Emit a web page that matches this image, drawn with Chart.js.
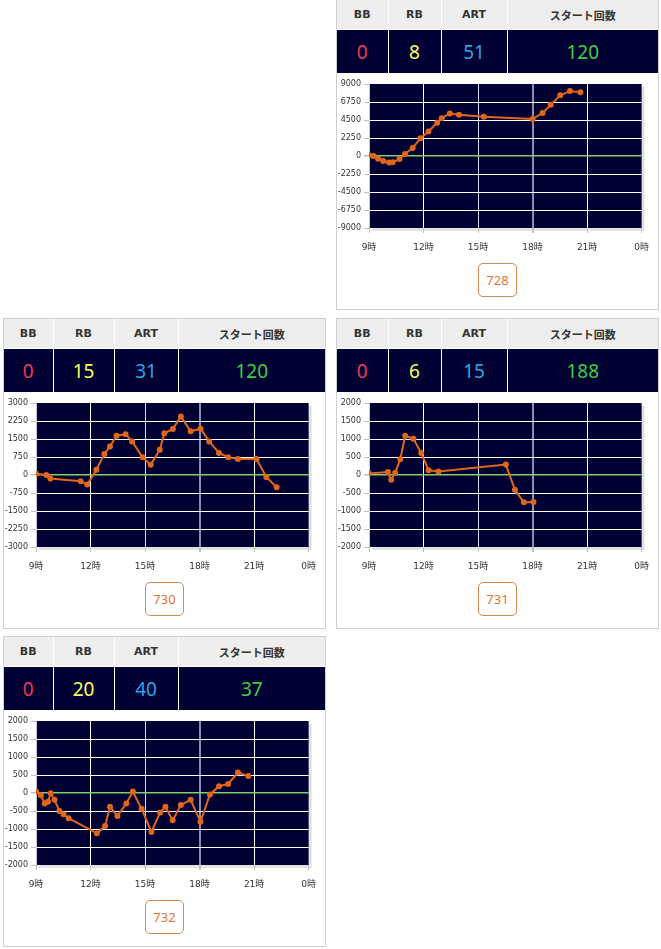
<!DOCTYPE html>
<html lang="ja">
<head>
<meta charset="UTF-8">
<title>スランプグラフ</title>
<script src="https://cdn.jsdelivr.net/npm/chart.js"></script>
<style>
body {
  margin: 0;
  width: 661px;
  height: 949px;
  position: relative;
  overflow: hidden;
  background: #fff;
  font-family: "DejaVu Sans", "Noto Sans CJK JP", sans-serif;
}
.panel {
  position: absolute;
  width: 321px;
  height: 309px;
  border: 1px solid #cfcfcf;
  background: #fff;
}
.panel table {
  border-collapse: collapse;
  table-layout: fixed;
  width: 321px;
}
.panel th {
  height: 29px;
  padding: 0;
  background: #eeeeee;
  color: #333;
  font-size: 11px;
  font-weight: bold;
  border-right: 1px solid #fff;
}
.panel td {
  height: 43px;
  padding: 0;
  background: #000033;
  font-family: "Noto Sans", sans-serif;
  font-size: 19px;
  text-align: center;
  border-right: 1px solid #fff;
  border-top: 1px solid #fff;
}
.panel th:last-child, .panel td:last-child { border-right: none; }
.bb { color: #ee3a52; }
.rb { color: #ffff5c; }
.art { color: #2ea3e6; }
.start { color: #3fcf3f; }
.panel canvas {
  position: absolute;
  left: 0;
  top: 74px;
}
.no {
  position: absolute;
  left: 141px;
  top: 263px;
  width: 37px;
  height: 32px;
  line-height: 32px;
  border: 1px solid #d88a4a;
  border-radius: 5px;
  text-align: center;
  color: #e07536;
  font-family: "Noto Sans", sans-serif;
  font-size: 13px;
}
</style>
</head>
<body>

<div id="panels"></div>

<script>
// 台番号と回数
const machines = ['728', '730', '731', '732'];
const bbCounts = [0, 0, 0, 0];
const rbCounts = [8, 15, 6, 20];
const artCounts = [51, 31, 15, 40];
const startCounts = [120, 120, 188, 37];

// 差枚グラフ（時刻, 差枚）
const hours728 = [9.0, 9.25, 9.5, 9.78, 10.1, 10.3, 10.68, 10.98, 11.4, 11.83, 12.27, 12.75, 13.0, 13.45, 13.95, 15.32, 18.0, 18.55, 19.0, 19.52, 20.06, 20.63];
const diff728 = [100, 0, -330, -640, -820, -780, -380, 260, 1000, 2230, 3060, 4150, 4730, 5320, 5150, 4920, 4620, 5380, 6420, 7580, 8120, 7960];

const hours730 = [9.0, 9.57, 9.79, 11.46, 11.82, 12.32, 12.76, 13.07, 13.43, 13.93, 14.29, 14.86, 15.31, 15.81, 16.06, 16.53, 16.97, 17.51, 18.05, 18.53, 19.07, 19.57, 20.11, 21.13, 21.67, 22.24];
const diff730 = [50, 0, -150, -260, -400, 220, 870, 1190, 1640, 1700, 1400, 740, 430, 1050, 1740, 1920, 2440, 1820, 1930, 1400, 920, 740, 670, 670, -80, -510];

const hours731 = [9.0, 10.04, 10.22, 10.44, 10.72, 10.99, 11.44, 11.87, 12.28, 12.82, 16.53, 17.03, 17.52, 18.05];
const diff731 = [40, 80, -130, 60, 440, 1090, 1010, 610, 130, 100, 290, -410, -760, -750];

const hours732 = [9.0, 9.27, 9.48, 9.66, 9.81, 10.02, 10.29, 10.51, 10.79, 12.35, 12.8, 13.07, 13.48, 13.97, 14.33, 14.81, 15.35, 15.83, 16.12, 16.52, 16.97, 17.51, 18.05, 18.57, 19.07, 19.57, 20.11, 20.68];
const diff732 = [40, -60, -290, -240, -10, -190, -500, -590, -700, -1120, -920, -380, -640, -290, 40, -440, -1080, -540, -380, -760, -330, -190, -800, -40, 190, 250, 570, 470];

const yMaxes = [9000, 3000, 2000, 2000];
const xTickLabels = ['9時', '12時', '15時', '18時', '21時', '0時'];
const headers = ['BB', 'RB', 'ART', 'スタート回数'];

const allHours = [hours728, hours730, hours731, hours732];
const allDiffs = [diff728, diff730, diff731, diff732];

// panel placement
const panelLeft = [336, 3, 336, 3];
const panelTop = [-1, 318, 318, 636];
const colWidths = [[51, 53, 66, 151], [49, 61, 64, 147], [51, 53, 66, 151], [49, 61, 64, 147]];

Chart.defaults.font.family = "'DejaVu Sans', 'Noto Sans CJK JP', sans-serif";
Chart.defaults.color = '#333';

const plotBg = {
  id: 'plotBg',
  beforeDraw(chart) {
    const { ctx, chartArea: a } = chart;
    ctx.save();
    ctx.fillStyle = '#e2e2e2';
    ctx.fillRect(a.left + 3, a.top + 3, a.width, a.height);
    ctx.fillStyle = '#000033';
    ctx.fillRect(a.left, a.top, a.width, a.height);
    ctx.restore();
  }
};

const wrap = document.getElementById('panels');

machines.forEach((no, i) => {
  const p = document.createElement('div');
  p.className = 'panel';
  p.style.left = panelLeft[i] + 'px';
  p.style.top = panelTop[i] + 'px';
  const w = colWidths[i];
  p.innerHTML =
    '<table><colgroup>' + w.map(x => '<col style="width:' + x + 'px">').join('') + '</colgroup>' +
    '<tr>' + headers.map(h => '<th>' + h + '</th>').join('') + '</tr>' +
    '<tr><td class="bb">' + bbCounts[i] + '</td><td class="rb">' + rbCounts[i] +
    '</td><td class="art">' + artCounts[i] + '</td><td class="start">' + startCounts[i] + '</td></tr></table>' +
    '<canvas id="c' + no + '" width="321" height="182"></canvas>' +
    '<div class="no">' + no + '</div>';
  wrap.appendChild(p);

  const max = yMaxes[i];
  const hrs = allHours[i];
  const vals = allDiffs[i];

  new Chart(document.getElementById('c' + no), {
    type: 'line',
    data: {
      datasets: [{
        data: hrs.map((h, k) => ({ x: h, y: vals[k] })),
        borderColor: '#e0661c',
        backgroundColor: '#e0661c',
        borderWidth: 2,
        pointRadius: 2,
        pointHoverRadius: 2,
        tension: 0
      }]
    },
    options: {
      responsive: false,
      animation: false,
      devicePixelRatio: 1,
      layout: { padding: { top: 10, right: 10, left: 0, bottom: 0 } },
      plugins: { legend: { display: false }, tooltip: { enabled: false } },
      scales: {
        x: {
          type: 'linear',
          min: 9,
          max: 24,
          afterFit: s => { s.height = 28; },
          border: { display: false },
          grid: {
            color: c => {
              const v = c.tick.value;
              if (v === 18) return '#8d8db0';
              if (v === 24) return 'rgba(0,0,0,0)';
              if (v === 15) return '#dcdcf4';
              if (v === 9) return '#c8c8d8';
              return '#ffffff';
            },
            lineWidth: c => (c.tick.value === 18 ? 2 : 1),
            tickColor: '#c0c0c0',
            tickLength: 5
          },
          ticks: {
            stepSize: 3,
            maxRotation: 0,
            autoSkip: false,
            padding: 9,
            font: { size: 9 },
            callback: v => xTickLabels[(v - 9) / 3]
          }
        },
        y: {
          min: -max,
          max: max,
          afterFit: s => { s.width = 32; },
          border: { display: false },
          grid: {
            color: c => {
              const v = c.tick.value;
              if (v === 0) return '#7ccf6c';
              if (v === max || v === -max) return 'rgba(0,0,0,0)';
              return '#ffffff';
            },
            lineWidth: c => (c.tick.value === 0 ? 1.5 : 1),
            tickColor: '#c0c0c0',
            tickLength: 5
          },
          ticks: {
            stepSize: max / 4,
            padding: 3,
            font: { size: 8 },
            callback: v => String(v)
          }
        }
      }
    },
    plugins: [plotBg]
  });
});
</script>
</body>
</html>
